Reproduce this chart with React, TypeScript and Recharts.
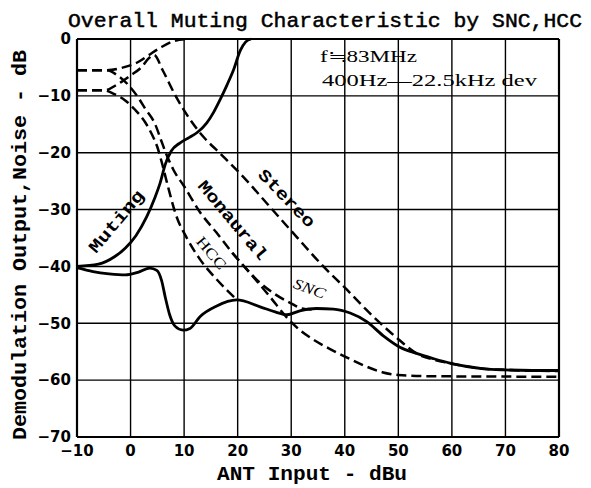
import React from "react";
import {
  LineChart,
  Line,
  XAxis,
  YAxis,
  CartesianGrid,
  ReferenceLine,
} from "recharts";

// x = ANT input (dBu), y = output / noise (dB)
const xTicks = [-10, 0, 10, 20, 30, 40, 50, 60, 70, 80];
const yTicks = [-70, -60, -50, -40, -30, -20, -10, 0];

const muting: [number, number][] = [
  [-10, -40], [-6, -39.6], [-3, -38.3], [-1, -36.8], [1, -34.6], [3, -31.3],
  [4.5, -28], [5.5, -25.4], [6.5, -22], [7.6, -19.7], [9.2, -18.3], [11, -17.3],
  [12.5, -16.4], [14.2, -14.8], [15.5, -12.9], [16.7, -10.7], [18, -8.1],
  [19.2, -5.5], [20.5, -2], [21.5, -0.5], [22.5, 0],
];

const snc: [number, number][] = [
  [-10, -40.2], [-7, -40.9], [-4, -41.3], [-1, -41.5], [1.5, -41], [3.6, -40.3],
  [4.9, -40.7], [5.8, -42.5], [6.5, -45.5], [7.3, -48.5], [8.3, -50.5],
  [9.8, -51.2], [11.1, -50.9], [13, -48.8], [16, -47], [19.8, -45.9],
  [24.2, -47.1], [27, -48], [29.2, -48.5], [31.6, -47.8], [34.7, -47.4],
  [37.9, -47.5], [41, -48.2], [44.1, -49.7], [47.2, -52.2], [50.3, -54.2],
  [53.4, -55.3], [56.5, -56.2], [59.6, -57], [62.8, -57.6], [66, -58],
  [70, -58.2], [75, -58.3], [80, -58.3],
];

const stereo: [number, number][] = [
  [-10, -9], [-4.8, -9], [-2.5, -8], [0, -6.4], [2, -5], [3.5, -3.3], [4.4, -2.8],
  [6, -5.5], [8.3, -9.8], [10.5, -13.3], [13.6, -17.2], [16.7, -20.1], [21, -24.2],
  [26, -29.5], [31, -34.8], [36, -40], [40.4, -44.1], [44.1, -47.7], [47, -50.3],
  [50, -52.8], [53.4, -55.3], [57, -56.5], [60, -57.1], [65, -57.9], [70, -58.2],
  [80, -58.4],
];

const hcc: [number, number][] = [
  [-10, -9], [-5, -9], [-3, -9.7], [-1, -10.8], [0.8, -12.4], [2.7, -14.6],
  [4, -16.8], [5, -19], [6, -22.3], [7, -26], [8.5, -31], [10.5, -35], [13, -38.8],
  [16, -42.2], [20, -46],
];

const monaural: [number, number][] = [
  [-10, -5.5], [-4.5, -5.5], [-2.3, -6.5], [-0.4, -8.1], [1.5, -10.4], [2.7, -12.2],
  [4.6, -15], [5.7, -17.8], [6.7, -20.3], [8, -23], [10, -25.9], [13, -30.5],
  [16, -34], [19, -37.6], [22.6, -41.5], [26, -45.3], [29, -48.8], [31.6, -51.2],
  [34, -52.8], [37.8, -54.8], [41, -56.3], [44, -57.6], [47, -58.6], [50, -59.1],
  [55, -59.3], [80, -59.4],
];

const monauralSnc: [number, number][] = [
  [19, -37.6], [21.5, -40.3], [24.2, -42.9], [27, -44.9], [29.8, -46.4],
  [32, -47.4], [34, -47.6],
];

const output: [number, number][] = [
  [-10, -5.5], [-4.5, -5.5], [-1, -4.9], [1.5, -4], [3.3, -2.9], [5.8, -1.4],
  [8.3, -0.3], [10.5, 0],
];

const pts = (a: [number, number][]) => a.map(([x, y]) => ({ x, y }));
const fmt = (v: number) => (v < 0 ? `\u2212${-v}` : `${v}`);

const DASH = "10 5";
const tickStyle = { fill: "#000", fontSize: 15, fontWeight: "bold", fontFamily: "DejaVu Sans" };

const App: React.FC = () => {
  return (
    <div style={{ position: "absolute", left: 0, top: 0, width: 591, height: 488 }}>
      <LineChart width={591} height={488} margin={{ top: 39, right: 32, left: 17, bottom: 21 }}>
        <CartesianGrid stroke="#000" strokeWidth={1.4} />
        <XAxis
          dataKey="x"
          type="number"
          domain={[-10, 80]}
          ticks={xTicks}
          tickFormatter={fmt}
          tick={tickStyle}
          tickLine={false}
          axisLine={{ stroke: "#000", strokeWidth: 2.2 }}
          height={30}
        />
        <YAxis
          type="number"
          domain={[-70, 0]}
          ticks={yTicks}
          tickFormatter={fmt}
          tick={tickStyle}
          tickLine={false}
          tickSize={4}
          axisLine={{ stroke: "#000", strokeWidth: 2.2 }}
          width={60}
        />
        <ReferenceLine y={0} stroke="#000" strokeWidth={2.2} />
        <ReferenceLine x={80} stroke="#000" strokeWidth={2.2} />
        <Line data={pts(output)} dataKey="y" type="monotone" stroke="#000" strokeWidth={2.5} strokeDasharray={DASH} dot={false} isAnimationActive={false} />
        <Line data={pts(monaural)} dataKey="y" type="monotone" stroke="#000" strokeWidth={2.5} strokeDasharray={DASH} dot={false} isAnimationActive={false} />
        <Line data={pts(monauralSnc)} dataKey="y" type="monotone" stroke="#000" strokeWidth={2.5} strokeDasharray={DASH} dot={false} isAnimationActive={false} />
        <Line data={pts(hcc)} dataKey="y" type="monotone" stroke="#000" strokeWidth={2.5} strokeDasharray={DASH} dot={false} isAnimationActive={false} />
        <Line data={pts(stereo)} dataKey="y" type="monotone" stroke="#000" strokeWidth={2.5} strokeDasharray={DASH} dot={false} isAnimationActive={false} />
        <Line data={pts(snc)} dataKey="y" type="monotone" stroke="#000" strokeWidth={2.8} dot={false} isAnimationActive={false} />
        <Line data={pts(muting)} dataKey="y" type="monotone" stroke="#000" strokeWidth={2.8} dot={false} isAnimationActive={false} />
      </LineChart>
      <svg
        width={591}
        height={488}
        style={{ position: "absolute", left: 0, top: 0, pointerEvents: "none" }}
      >
        <text x={68} y={27} fontFamily="Liberation Mono" fontSize={21} textLength={514} lengthAdjust="spacingAndGlyphs" fill="#000" stroke="#000" strokeWidth={0.5}>
          Overall Muting Characteristic by SNC,HCC
        </text>
        <text x={320} y={62} fontFamily="Liberation Serif" fontSize={16} textLength={97} lengthAdjust="spacingAndGlyphs" fill="#000">
          f≒83MHz
        </text>
        <text x={322} y={86} fontFamily="Liberation Serif" fontSize={16} textLength={215} lengthAdjust="spacingAndGlyphs" fill="#000">
          400Hz—22.5kHz dev
        </text>
        <text
          transform="translate(26,245) rotate(-90)"
          textAnchor="middle"
          fontFamily="Liberation Mono"
          fontWeight="bold"
          fontSize={20}
          textLength={390}
          lengthAdjust="spacingAndGlyphs"
          fill="#000"
        >
          Demodulation Output,Noise - dB
        </text>
        <text x={312} y={480} textAnchor="middle" fontFamily="Liberation Mono" fontWeight="bold" fontSize={20} textLength={190} lengthAdjust="spacingAndGlyphs" fill="#000">
          ANT Input - dBu
        </text>
        <text transform="translate(117,222) rotate(-50)" textAnchor="middle" dominantBaseline="middle" fontFamily="Liberation Mono" fontWeight="bold" fontSize={17} textLength={76} lengthAdjust="spacingAndGlyphs" fill="#000">
          Muting
        </text>
        <text transform="translate(232,221) rotate(50)" textAnchor="middle" dominantBaseline="middle" fontFamily="Liberation Mono" fontWeight="bold" fontSize={17} textLength={98} lengthAdjust="spacingAndGlyphs" fill="#000">
          Monaural
        </text>
        <text transform="translate(286,199) rotate(46)" textAnchor="middle" dominantBaseline="middle" fontFamily="Liberation Mono" fontWeight="bold" fontSize={17} textLength={74} lengthAdjust="spacingAndGlyphs" fill="#000">
          Stereo
        </text>
        <text transform="translate(210,254) rotate(50)" textAnchor="middle" dominantBaseline="middle" fontFamily="Liberation Serif" fontSize={15} textLength={38} lengthAdjust="spacingAndGlyphs" fill="#000">
          HCC
        </text>
        <text transform="translate(309,290) rotate(20)" textAnchor="middle" dominantBaseline="middle" fontFamily="Liberation Serif" fontStyle="italic" fontSize={15} textLength={33} lengthAdjust="spacingAndGlyphs" fill="#000">
          SNC
        </text>
      </svg>
    </div>
  );
};

export default App;
